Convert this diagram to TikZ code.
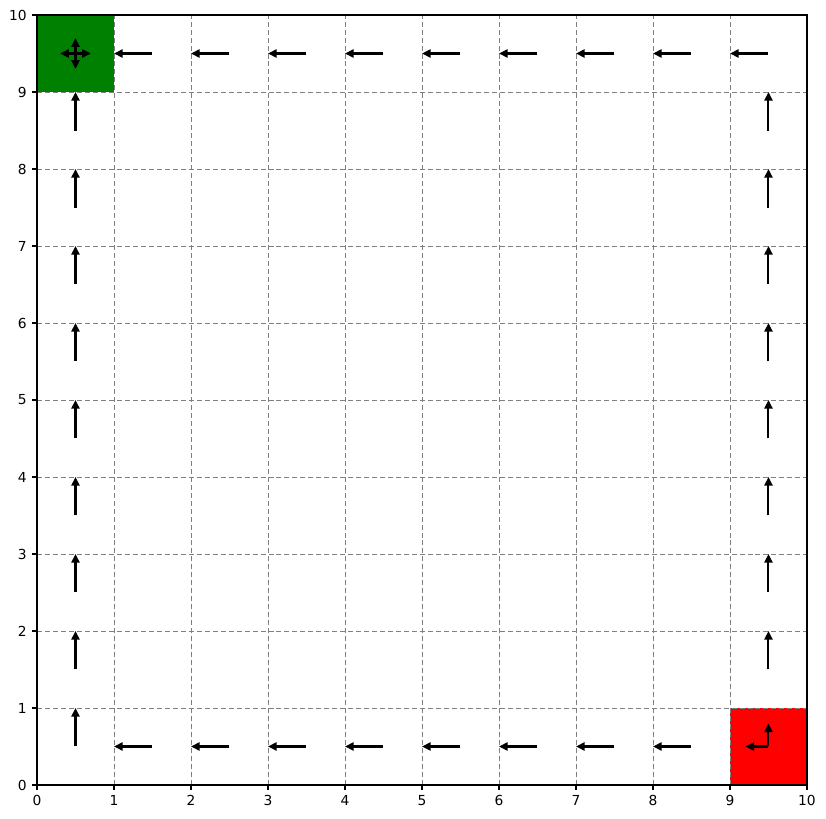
\documentclass[tikz,border=0pt]{standalone}
\usepackage{fontspec}
\setmainfont{DejaVu Sans}
\usetikzlibrary{arrows.meta}
\tikzset{
  goalcell/.style={fill=green!50!black},
  startcell/.style={fill=red},
  gridline/.style={gray,line width=0.35pt,dash pattern=on 1.85pt off 1.1pt},
  move/.style={-{Triangle[length=3.2pt,width=3pt]},line width=0.75pt},
  axistick/.style={line width=0.4pt},
  ticklabel/.style={inner sep=0pt,font=\fontsize{5.1}{6}\selectfont},
}

\begin{document}
\begin{tikzpicture}
  \useasboundingbox (-0.4805,-0.4416) rectangle (10.247,10.195);
  % start and goal cells
  \fill[startcell] (9,0) rectangle (10,1);
  \fill[goalcell] (0,9) rectangle (1,10);
  % grid
  \foreach \i in {1,...,9} {
    \draw[gridline] (\i,0) -- (\i,10);
    \draw[gridline] (0,\i) -- (10,\i);
  }
  \draw[line width=0.4pt] (0,0) rectangle (10,10);
  % ticks and labels
  \foreach \i in {0,...,10} {
    \draw[axistick] (\i,0) -- (\i,-0.063);
    \node[ticklabel,anchor=north] (xl\i) at (\i,-0.126) {\i};
    \draw[axistick] (0,\i) -- (-0.063,\i);
    \node[ticklabel,anchor=east] (yl\i) at (-0.126,\i) {\i};
  }
  % policy arrows
  \foreach \c in {1,...,8}
    \draw[move] (\c+0.5,0.5) -- (\c,0.5);
  \foreach \c in {1,...,9}
    \draw[move] (\c+0.5,9.5) -- (\c,9.5);
  \foreach \r in {0,...,8}
    \draw[move] (0.5,\r+0.5) -- (0.5,\r+1);
  \foreach \r in {1,...,8}
    \draw[move] (9.5,\r+0.5) -- (9.5,\r+1);
  \draw[move] (9.5,0.5) -- (9.5,0.8);
  \draw[move] (9.5,0.5) -- (9.2,0.5);
  \draw[move] (0.5,9.5) -- (0.5,9.7);
  \draw[move] (0.5,9.5) -- (0.5,9.3);
  \draw[move] (0.5,9.5) -- (0.3,9.5);
  \draw[move] (0.5,9.5) -- (0.7,9.5);
\end{tikzpicture}
\end{document}
